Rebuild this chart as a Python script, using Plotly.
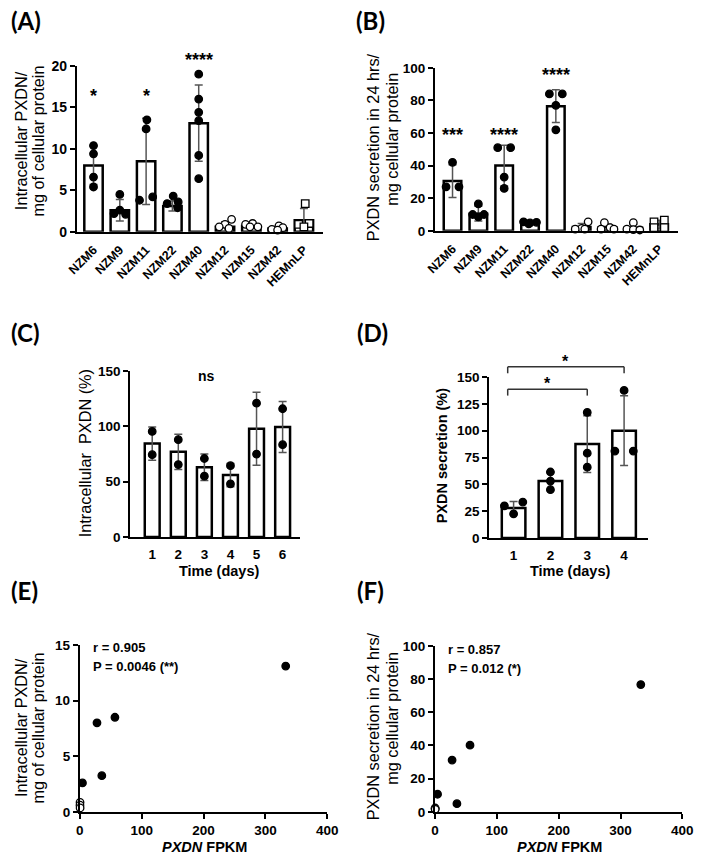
import plotly.graph_objects as go

W, H = 705, 863

# ---------------- DATA ----------------
cell_lines = ["NZM6", "NZM9", "NZM11", "NZM22", "NZM40", "NZM12", "NZM15", "NZM42", "HEMnLP"]

# (A) Intracellular PXDN / mg of cellular protein
a_mean = [8.0, 2.6, 8.5, 3.1, 13.1, 0.6, 0.7, 0.4, 1.4]
a_sd = [2.3, 1.3, 5.2, 0.6, 4.6, 0.6, 0.25, 0.25, 1.4]
a_points = [
    [10.4, 9.4, 6.6, 5.4],
    [4.5, 2.6, 2.2, 2.1],
    [13.5, 12.4, 3.8, 4.2],
    [4.3, 3.6, 3.4, 2.9],
    [19.0, 16.0, 14.4, 13.4, 9.2, 6.4],
    [1.5, 0.9, 0.6, 0.4],
    [1.0, 0.9, 0.6, 0.6],
    [0.7, 0.5, 0.3, 0.2],
    [3.4, 1.0, 0.9, 0.6],
]
a_stars = ["*", "", "*", "", "****", "", "", "", ""]
a_star_y = [16.4, None, 16.4, None, 20.7, None, None, None, None]

# (B) PXDN secretion in 24 hrs / mg cellular protein
b_mean = [30.5, 10.5, 40.0, 4.8, 76.5, 2.3, 2.2, 1.8, 4.0]
b_sd = [10.0, 4.5, 12.5, 0.6, 10.0, 2.2, 1.9, 2.0, 2.4]
b_points = [
    [42.0, 27.0, 27.0],
    [16.5, 10.0, 10.0, 8.5],
    [51.0, 51.0, 33.0, 26.0],
    [5.5, 5.2, 4.8, 4.3],
    [84.0, 84.0, 77.0, 62.0],
    [5.5, 1.5, 1.0, 1.0],
    [5.0, 2.0, 1.0, 1.0],
    [5.0, 1.0, 0.7, 0.5],
    [6.5, 5.5, 2.0, 2.0],
]
b_stars = ["***", "", "****", "", "****", "", "", "", ""]
b_star_y = [59.0, None, 59.0, None, 95.6, None, None, None, None]

# (C) Intracellular PXDN (%) over time
c_days = [1, 2, 3, 4, 5, 6]
c_mean = [84.5, 77.0, 63.0, 56.0, 98.0, 99.5]
c_sd = [15.0, 16.0, 12.0, 10.5, 33.0, 23.0]
c_points = [[95.5, 74.5], [88.0, 65.5], [71.0, 55.0], [64.5, 48.0], [121.0, 75.0], [116.0, 83.5]]
c_label = "ns"
c_label_pos = (3.1, 145.5)

# (D) PXDN secretion (%) over time
d_days = [1, 2, 3, 4]
d_mean = [28.0, 53.0, 87.5, 100.0]
d_sd = [6.0, 8.5, 26.5, 32.5]
d_points = [[30.0, 22.5, 33.5], [61.5, 53.0, 45.0], [117.0, 79.0, 66.0], [137.5, 81.0, 81.0]]
d_brackets = [  # (from day, to day, bracket level, label)
    (1, 3, 138.7, "*"),
    (1, 4, 159.5, "*"),
]

# (E)/(F) correlation with PXDN FPKM (NZM6, NZM9, NZM11, NZM22, NZM40, NZM12, NZM15, NZM42)
fpkm = [27.7, 4.2, 56.7, 35.5, 332.8, 0.3, 0.2, 0.4]
e_vals = [8.0, 2.6, 8.5, 3.25, 13.1, 0.85, 0.6, 0.35]
f_vals = [31.2, 10.6, 40.2, 4.9, 76.7, 2.3, 2.0, 1.5]
e_stats = ["r = 0.905", "P = 0.0046 (**)"]
f_stats = ["r = 0.857", "P = 0.012 (*)"]

# ---------------- STYLE / GEOMETRY ----------------
FONT = "Liberation Sans, Arial, sans-serif"
filled = [True, True, True, True, True, False, False, False, False]
symbols = ["circle"] * 8 + ["square"]

# horizontal jitter of individual points (fraction of category spacing)
a_jit = [
    [0, 0, 0, 0], [0, 0, -0.22, 0.22], [0.03, 0, -0.25, 0.25], [0.03, 0.22, -0.2, 0.2],
    [0, 0, 0, 0, 0, 0], [0.25, 0, -0.22, 0.15], [0.05, -0.22, 0.25, -0.05],
    [0.05, 0.2, -0.22, 0.0], [0.05, 0.2, -0.2, 0.0],
]
b_jit = [
    [0, -0.25, 0.25], [0, -0.22, 0.22, 0], [-0.25, 0.25, 0, 0], [-0.25, 0.25, 0, -0.05],
    [-0.25, 0.25, 0, 0], [0.25, 0, -0.25, 0.12], [-0.12, 0.1, -0.25, 0.25],
    [0, -0.25, 0, 0.25], [0.2, -0.2, -0.2, 0.2],
]
c_jit = [[0, 0]] * 6
d_jit = [[-0.25, 0, 0.25], [0, 0, 0], [0, 0, 0], [0, -0.25, 0.25]]

# panel pixel boxes: (left, right, bottom, top)
box = {
    "A": (69, 323, 228, 59),
    "B": (438, 688, 227, 61),
    "C": (124, 299, 539, 370),
    "D": (494, 658, 540, 376),
    "E": (72, 327, 819, 649),
    "F": (438, 693, 819, 650),
}
xr = {"A": [-0.63, 8.74], "B": [-0.68, 8.71], "C": [0.16, 6.67], "D": [0.34, 4.66],
      "E": [0, 400], "F": [0, 400]}
yr = {"A": [0, 20], "B": [0, 100], "C": [0, 150], "D": [0, 150], "E": [0, 15], "F": [0, 100]}
ytv = {"A": [0, 5, 10, 15, 20], "B": [0, 20, 40, 60, 80, 100], "C": [0, 50, 100, 150],
       "D": [0, 25, 50, 75, 100, 125, 150], "E": [0, 5, 10, 15], "F": [0, 20, 40, 60, 80, 100]}
tick_size = {"A": 14, "B": 13.5, "C": 13.5, "D": 13.5, "E": 13.5, "F": 13.5}
axn = {"A": "", "B": "2", "C": "3", "D": "4", "E": "5", "F": "6"}

fig = go.Figure()


def px_x(p):
    return p / W


def px_y(p):
    return 1 - p / H


def add_bar_panel(key, xs, mean, sd, points, jit, width):
    n = axn[key]
    fig.add_trace(go.Bar(
        x=xs, y=mean, width=width,
        marker=dict(color="white", line=dict(color="black", width=2.5)),
        error_y=dict(type="data", array=sd, color="#555555", thickness=1.5, width=4),
        xaxis="x" + n, yaxis="y" + n, showlegend=False, hoverinfo="skip",
    ))
    for i, (pts, jj) in enumerate(zip(points, jit)):
        if key in ("A", "B"):
            fill = "black" if filled[i] else "white"
            sym = symbols[i]
        else:
            fill, sym = "black", "circle"
        fig.add_trace(go.Scatter(
            x=[xs[i] + j for j in jj], y=pts, mode="markers",
            marker=dict(size=7.5, color=fill, symbol=sym, line=dict(color="black", width=1.3)),
            xaxis="x" + n, yaxis="y" + n, showlegend=False, cliponaxis=False, hoverinfo="skip",
        ))


xa = list(range(len(cell_lines)))
add_bar_panel("A", xa, a_mean, a_sd, a_points, a_jit, 0.7)
add_bar_panel("B", xa, b_mean, b_sd, b_points, b_jit, 0.68)
add_bar_panel("C", c_days, c_mean, c_sd, c_points, c_jit, 0.57)
add_bar_panel("D", d_days, d_mean, d_sd, d_points, d_jit, 0.64)

for key, yv in (("E", e_vals), ("F", f_vals)):
    n = axn[key]
    fills = ["black" if f else "white" for f in filled[:len(yv)]]
    fig.add_trace(go.Scatter(
        x=fpkm, y=yv, mode="markers",
        marker=dict(size=7.5, color=fills, line=dict(color="black", width=1.3)),
        xaxis="x" + n, yaxis="y" + n, showlegend=False, cliponaxis=False, hoverinfo="skip",
    ))

layout = dict(
    width=W, height=H, margin=dict(l=0, r=0, t=0, b=0),
    paper_bgcolor="white", plot_bgcolor="white", showlegend=False,
    font=dict(family=FONT, color="black"),
)

for key in box:
    l, r, b, t = box[key]
    n = axn[key]
    xax = dict(
        domain=[px_x(l), px_x(r)], range=xr[key], anchor="y" + n,
        showline=True, linewidth=2, linecolor="black", showgrid=False, zeroline=False,
        tickfont=dict(family=FONT, size=13.5, weight="bold", color="black"),
    )
    if key in ("A", "B"):
        xax.update(tickmode="array", tickvals=xa, ticktext=cell_lines, tickangle=-45,
                   ticks="", ticklabelstandoff=4, tickfont=dict(family=FONT, size=12.5, weight="bold"))
    elif key in ("C", "D"):
        days = c_days if key == "C" else d_days
        xax.update(tickmode="array", tickvals=days, ticktext=[str(d) for d in days],
                   ticks="", ticklabelstandoff=4)
    else:
        xax.update(tickmode="array", tickvals=[0, 100, 200, 300, 400], ticks="outside",
                   ticklen=5, tickwidth=2, tickcolor="black")
    yax = dict(
        domain=[px_y(b), px_y(t)], range=yr[key], anchor="x" + n,
        showline=True, linewidth=2, linecolor="black", showgrid=False, zeroline=False,
        tickmode="array", tickvals=ytv[key], ticks="outside", ticklen=5, tickwidth=2,
        tickcolor="black",
        tickfont=dict(family=FONT, size=tick_size[key], weight="bold", color="black"),
    )
    layout["xaxis" + n] = xax
    layout["yaxis" + n] = yax

fig.update_layout(**layout)

ann = []
shapes = []

# panel letters (left px, centre y px)
for txt, x, y in (("(A)", 0, 13), ("(B)", 356, 13), ("(C)", 0, 331), ("(D)", 357, 331),
                  ("(E)", 0, 593), ("(F)", 357, 593)):
    ann.append(dict(text=txt, x=px_x(x), y=px_y(y), xref="paper", yref="paper",
                    xanchor="left", yanchor="middle", showarrow=False, borderpad=0,
                    font=dict(family="Lato, Open Sans, sans-serif", size=24, weight="bold")))

# y-axis titles (text, center x px, center y px, bold)
ytitles = [
    ("Intracellular PXDN/", 12, 135, False), ("mg of cellular protein", 29, 136, False),
    ("PXDN secretion in 24 hrs/", 375, 142, False), ("mg cellular protein", 393, 134, False),
    ("Intracellular  PXDN (%)", 77, 454, False),
    ("PXDN secretion (%)", 445, 456, True),
    ("Intracellular PXDN/", 12, 733, False), ("mg of cellular protein", 29, 734, False),
    ("PXDN secretion in 24 hrs/", 375, 732, False), ("mg cellular protein", 393, 724, False),
]
for txt, x, y, bold in ytitles:
    ann.append(dict(text=txt, x=px_x(x), y=px_y(y), xref="paper", yref="paper",
                    xanchor="center", yanchor="middle", showarrow=False, textangle=-90,
                    font=dict(family=FONT, size=16.3 if not bold else 14.5,
                              weight="bold" if bold else "normal")))

# x-axis titles
for txt, x, y in (("Time (days)", 215, 574), ("Time (days)", 577, 574),
                  ("<i>PXDN</i> FPKM", 200, 855), ("<i>PXDN</i> FPKM", 566, 855)):
    ann.append(dict(text=txt, x=px_x(x), y=px_y(y), xref="paper", yref="paper",
                    xanchor="center", yanchor="middle", showarrow=False,
                    font=dict(family=FONT, size=14.5, weight="bold")))


# significance stars on A and B (domain refs so they stay visible above the range)
def xdom(key, v):
    return (v - xr[key][0]) / (xr[key][1] - xr[key][0])


def ydom(key, v):
    return (v - yr[key][0]) / (yr[key][1] - yr[key][0])


for key, stars, sy in (("A", a_stars, a_star_y), ("B", b_stars, b_star_y)):
    n = axn[key]
    for i, (s, yv) in enumerate(zip(stars, sy)):
        if s:
            ann.append(dict(text=s, x=xdom(key, xa[i]), y=ydom(key, yv),
                            xref="x" + n + " domain", yref="y" + n + " domain",
                            xanchor="center", yanchor="middle", showarrow=False,
                            font=dict(family=FONT, size=18, weight="bold")))

# ns label in C
ann.append(dict(text=c_label, x=xdom("C", c_label_pos[0]), y=ydom("C", c_label_pos[1]),
                xref="x3 domain", yref="y3 domain",
                xanchor="center", yanchor="middle", showarrow=False,
                font=dict(family=FONT, size=14, weight="bold")))

# brackets in D (domain coordinates so they are not clipped)
for d0, d1, lvl, lab in d_brackets:
    xl, xr_ = xdom("D", d0 - 0.16), xdom("D", d1)
    top, leg = ydom("D", lvl), ydom("D", lvl - 6)
    for (x0, y0, x1, y1) in ((xl, leg, xl, top), (xl, top, xr_, top), (xr_, top, xr_, leg)):
        shapes.append(dict(type="line", xref="x4 domain", yref="y4 domain",
                           x0=x0, y0=y0, x1=x1, y1=y1,
                           line=dict(color="#333333", width=1.5)))
    ann.append(dict(text=lab, x=(xl + xr_) / 2, y=ydom("D", lvl + 5),
                    xref="x4 domain", yref="y4 domain",
                    xanchor="center", yanchor="middle", showarrow=False,
                    font=dict(family=FONT, size=16, weight="bold")))

# correlation stats in E and F
for lines, x, ys in ((e_stats, 84, (652, 671)), (f_stats, 449, (654, 673))):
    for txt, y in zip(lines, ys):
        ann.append(dict(text=txt, x=px_x(x), y=px_y(y), xref="paper", yref="paper",
                        xanchor="left", yanchor="middle", showarrow=False,
                        font=dict(family=FONT, size=13, weight="bold")))

fig.update_layout(annotations=ann, shapes=shapes)
fig.write_html("out.html", config={"displayModeBar": False},
               post_script=["document.body.style.margin='0';document.body.style.overflow='hidden';"])
